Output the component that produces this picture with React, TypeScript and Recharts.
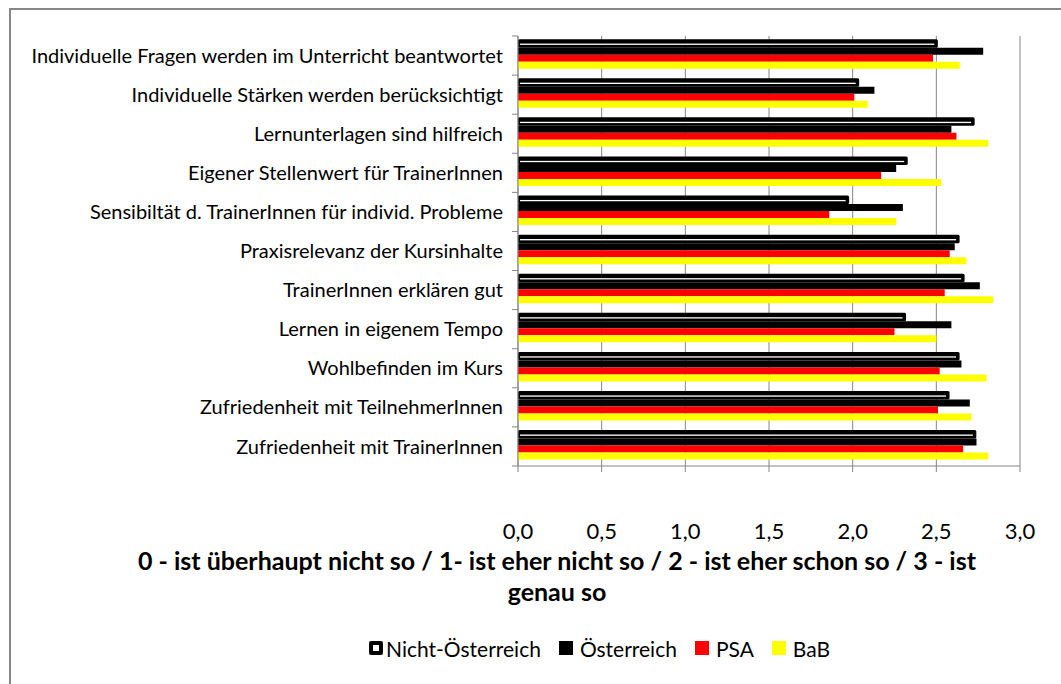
import { BarChart, Bar, XAxis, YAxis, CartesianGrid, Legend } from 'recharts';

const categories = [
  'Individuelle Fragen werden im Unterricht beantwortet',
  'Individuelle Stärken werden berücksichtigt',
  'Lernunterlagen sind hilfreich',
  'Eigener Stellenwert für TrainerInnen',
  'Sensibiltät d. TrainerInnen für individ. Probleme',
  'Praxisrelevanz der Kursinhalte',
  'TrainerInnen erklären gut',
  'Lernen in eigenem Tempo',
  'Wohlbefinden im Kurs',
  'Zufriedenheit mit TeilnehmerInnen',
  'Zufriedenheit mit TrainerInnen',
];
const nichtOesterreich = [2.5, 2.03, 2.72, 2.32, 1.97, 2.63, 2.66, 2.31, 2.63, 2.57, 2.73];
const oesterreich = [2.78, 2.13, 2.59, 2.26, 2.3, 2.61, 2.76, 2.59, 2.65, 2.7, 2.74];
const psa = [2.48, 2.01, 2.62, 2.17, 1.86, 2.58, 2.55, 2.25, 2.52, 2.51, 2.66];
const bab = [2.64, 2.09, 2.81, 2.53, 2.26, 2.68, 2.84, 2.5, 2.8, 2.71, 2.81];
const xTicks = [0, 0.5, 1, 1.5, 2, 2.5, 3];
const titleLines = [
  '0 - ist überhaupt nicht so / 1- ist eher nicht so / 2 - ist eher schon so / 3 - ist',
  'genau so',
];

const data = categories.map((name, i) => ({
  name,
  nicht: nichtOesterreich[i],
  oe: oesterreich[i],
  psa: psa[i],
  bab: bab[i],
}));

const FONT = 'Lato, "Open Sans", sans-serif';
const GRID = '#868686';
const plotLeft = 518;
const plotTop = 36;
const plotBottom = 466;
const band = (plotBottom - plotTop) / categories.length;

// white bar with a thick black outline, like the Excel original
const OutlineBar = (props: any) => {
  const { x, y, width, height } = props;
  if (!width) return null;
  return (
    <g>
      <rect x={x} y={y - 1.5} width={width + 1.5} height={height + 1.5} rx={1.5} fill="#000" />
      <rect x={x + 2} y={y + height / 2 - 0.6} width={Math.max(0, width - 4)} height={1.3} fill="#fff" />
    </g>
  );
};

const CategoryTick = (props: any) => {
  const { x, y, payload, index } = props;
  return (
    <g>
      <line x1={plotLeft - 6} x2={plotLeft} y1={y - band / 2} y2={y - band / 2} stroke={GRID} />
      {index === categories.length - 1 && (
        <line x1={plotLeft - 6} x2={plotLeft} y1={y + band / 2} y2={y + band / 2} stroke={GRID} />
      )}
      <text x={x} y={y} dy="0.355em" textAnchor="end" fill="#000" fontSize={20} fontFamily={FONT}>
        {payload.value}
      </text>
    </g>
  );
};

const TitleLabel = (props: any) => {
  const { viewBox } = props;
  const top = viewBox ? viewBox.y : plotBottom;
  return (
    <text textAnchor="middle" fontFamily={FONT} fontSize={25} fontWeight="bold" fill="#000">
      <tspan x={557} y={top + 104}>{titleLines[0]}</tspan>
      <tspan x={557} y={top + 135}>{titleLines[1]}</tspan>
    </text>
  );
};

const legendItems = [
  { name: 'Nicht-Österreich', color: '#000', outline: true },
  { name: 'Österreich', color: '#000' },
  { name: 'PSA', color: '#ff0000' },
  { name: 'BaB', color: '#ffff00' },
];

const renderLegend = () => (
  <div style={{ display: 'flex', alignItems: 'center', height: 30, paddingLeft: 369, fontFamily: FONT, fontSize: 21, color: '#000' }}>
    {legendItems.map((it) => (
      <div key={it.name} style={{ display: 'flex', alignItems: 'center', marginRight: 18 }}>
        <span
          style={{
            width: 14,
            height: 14,
            boxSizing: 'border-box',
            background: it.outline ? '#fff' : it.color,
            border: it.outline ? '4px solid #000' : 'none',
            borderRadius: it.outline ? 2 : 0,
            marginRight: it.outline ? 3 : 7,
            display: 'inline-block',
          }}
        />
        <span>{it.name}</span>
      </div>
    ))}
  </div>
);

export default function App() {
  return (
    <div style={{ position: 'absolute', left: 0, top: 0, width: 1061, height: 684, background: '#fff', overflow: 'hidden' }}>
      <div
        style={{
          position: 'absolute',
          left: 9,
          top: 8,
          width: 1052,
          height: 676,
          boxSizing: 'border-box',
          borderLeft: '2px solid #868686',
          borderTop: '2px solid #868686',
        }}
      />
      <BarChart
        width={1061}
        height={684}
        data={data}
        layout="vertical"
        margin={{ top: plotTop, right: 41, left: 0, bottom: 21 }}
        barCategoryGap="12%"
        barGap={0}
      >
        <CartesianGrid horizontal={false} stroke={GRID} />
        <XAxis
          type="number"
          domain={[0, 3]}
          ticks={xTicks}
          interval={0}
          tickFormatter={(v: number) => v.toFixed(1).replace('.', ',')}
          stroke={GRID}
          tick={{ fill: '#000', fontSize: 22, fontFamily: FONT }}
          tickSize={6}
          tickMargin={51}
          height={167}
          label={<TitleLabel />}
        />
        <YAxis
          type="category"
          dataKey="name"
          width={plotLeft}
          stroke={GRID}
          tickLine={false}
          tickSize={0}
          tickMargin={15}
          interval={0}
          tick={<CategoryTick />}
        />
        <Legend verticalAlign="bottom" content={renderLegend} wrapperStyle={{ height: 30 }} />
        <Bar dataKey="nicht" name="Nicht-Österreich" fill="#fff" shape={<OutlineBar />} isAnimationActive={false} />
        <Bar dataKey="oe" name="Österreich" fill="#000" isAnimationActive={false} />
        <Bar dataKey="psa" name="PSA" fill="#ff0000" isAnimationActive={false} />
        <Bar dataKey="bab" name="BaB" fill="#ffff00" isAnimationActive={false} />
      </BarChart>
    </div>
  );
}
